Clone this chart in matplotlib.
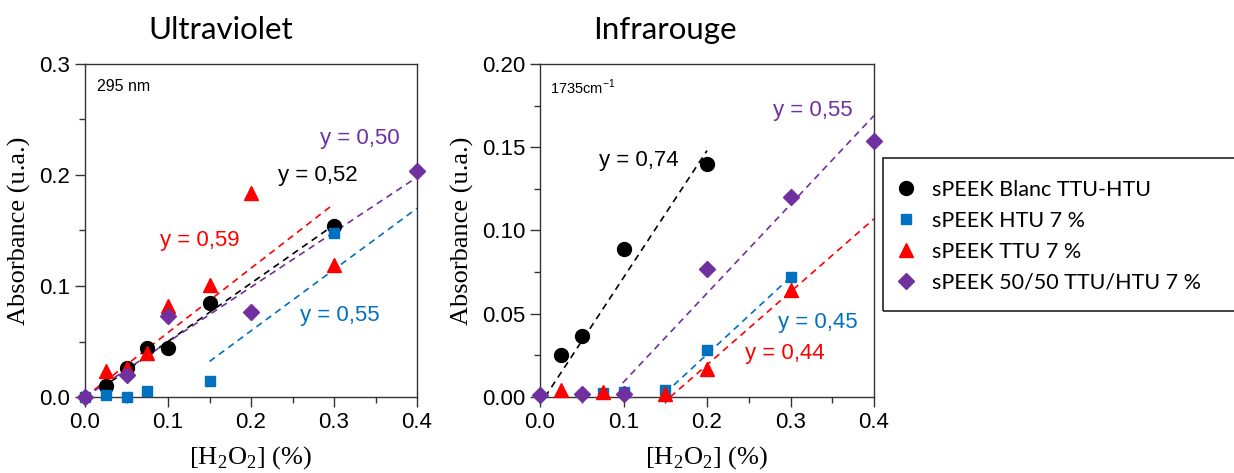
import matplotlib.pyplot as plt
import numpy as np
from matplotlib.patches import Rectangle
from matplotlib.lines import Line2D
from matplotlib.ticker import MultipleLocator

plt.rcParams['mathtext.fontset'] = 'custom'
plt.rcParams['mathtext.rm'] = 'Liberation Serif'
plt.rcParams['mathtext.sf'] = 'Liberation Sans'

# series info
names = ['sPEEK Blanc TTU-HTU', 'sPEEK HTU 7 %', 'sPEEK TTU 7 %', 'sPEEK 50/50 TTU/HTU 7 %']
colors = ['black', '#0070C0', '#FF0000', '#7030A0']
markers = ['o', 's', '^', 'D']
msizes = [10, 7.5, 10.5, 8.5]

# Ultraviolet (295 nm)
uv_x = [
    [0.025, 0.05, 0.075, 0.1, 0.15, 0.3],
    [0.0, 0.025, 0.05, 0.075, 0.15, 0.3],
    [0.025, 0.05, 0.075, 0.1, 0.15, 0.2, 0.3],
    [0.0, 0.05, 0.1, 0.2, 0.4],
]
uv_y = [
    [0.010, 0.026, 0.044, 0.044, 0.085, 0.154],
    [0.0, 0.0015, 0.0, 0.005, 0.014, 0.148],
    [0.023, 0.026, 0.040, 0.082, 0.101, 0.184, 0.119],
    [0.0, 0.020, 0.073, 0.077, 0.204],
]
# fit lines: (x0, y0, x1, y1)
uv_fit = [
    (0.02, 0.008, 0.3, 0.155),
    (0.15, 0.032, 0.4, 0.170),
    (0.0, 0.0, 0.3, 0.174),
    (0.0, 0.0, 0.4, 0.198),
]
uv_lbl = ['y = 0,52', 'y = 0,55', 'y = 0,59', 'y = 0,50']
uv_lbl_pos = [(0.281, 0.200), (0.307, 0.073), (0.138, 0.141), (0.331, 0.233)]

# Infrarouge (1735 cm-1)
ir_x = [
    [0.025, 0.05, 0.1, 0.2],
    [0.075, 0.1, 0.15, 0.2, 0.3],
    [0.025, 0.075, 0.15, 0.2, 0.3],
    [0.0, 0.05, 0.1, 0.2, 0.3, 0.4],
]
ir_y = [
    [0.025, 0.0364, 0.0888, 0.140],
    [0.0024, 0.003, 0.004, 0.028, 0.072],
    [0.004, 0.003, 0.002, 0.017, 0.064],
    [0.001, 0.002, 0.002, 0.077, 0.120, 0.154],
]
ir_fit = [
    (0.006, 0.0, 0.2, 0.148),
    (0.15, 0.0024, 0.3, 0.072),
    (0.156, 0.0, 0.4, 0.107),
    (0.099, 0.0084, 0.4, 0.169),
]
ir_lbl = ['y = 0,74', 'y = 0,45', 'y = 0,44', 'y = 0,55']
ir_lbl_pos = [(0.118, 0.142), (0.333, 0.045), (0.293, 0.026), (0.327, 0.172)]

tick_font = 'Liberation Sans'
serif = 'Liberation Serif'
title_font = 'Lato'

fig = plt.figure(figsize=(12.34, 4.73), dpi=100)
ax1 = fig.add_axes([85/1234, 1-397/473, 332/1234, 333/473])
ax2 = fig.add_axes([540/1234, 1-397/473, 334/1234, 333/473])


def draw(ax, xs, ys, fits, lbls, lpos, ymax, ymaj, ymin, yfmt):
    for i in range(4):
        x0, y0, x1, y1 = fits[i]
        ax.plot([x0, x1], [y0, y1], ls=(0, (4, 3)), lw=1.2, color=colors[i], zorder=2)
    for i in range(4):
        ax.plot(xs[i], ys[i], ls='none', marker=markers[i], ms=msizes[i],
                color=colors[i], mec=colors[i], zorder=3, clip_on=False)
    for i in range(4):
        ax.text(lpos[i][0], lpos[i][1], lbls[i], color=colors[i], fontsize=16,
                family=tick_font, ha='center', va='center')
    ax.set_xlim(0, 0.4)
    ax.set_ylim(0, ymax)
    ax.xaxis.set_major_locator(MultipleLocator(0.1))
    ax.xaxis.set_minor_locator(MultipleLocator(0.05))
    ax.yaxis.set_major_locator(MultipleLocator(ymaj))
    ax.yaxis.set_minor_locator(MultipleLocator(ymin))
    ax.yaxis.set_major_formatter(yfmt)
    ax.xaxis.set_major_formatter('{x:.1f}')
    ax.tick_params(which='major', direction='out', length=7, width=1, labelsize=16, color='#333333')
    ax.tick_params(which='minor', direction='out', length=4, width=1, color='#333333')
    for lab in ax.get_xticklabels() + ax.get_yticklabels():
        lab.set_family(tick_font)
    for s in ax.spines.values():
        s.set_color('#333333')
        s.set_linewidth(1)
    ax.set_xlabel(r'[H$_\mathrm{2}$O$_\mathrm{2}$] (%)', family=serif, fontsize=19, labelpad=8)
    ax.set_ylabel('Absorbance (u.a.)', family=serif, fontsize=19, labelpad=6)


draw(ax1, uv_x, uv_y, uv_fit, uv_lbl, uv_lbl_pos, 0.3, 0.1, 0.05, '{x:.1f}')
draw(ax2, ir_x, ir_y, ir_fit, ir_lbl, ir_lbl_pos, 0.2, 0.05, 0.025, '{x:.2f}')

ax1.text(0.014, 0.28, '295 nm', fontsize=11.5, family=tick_font, va='center')
ax2.text(0.012, 0.186, r'1735cm$^{\mathsf{-1}}$', fontsize=10.5, family=tick_font, va='center')

fig.text(221/1234, 1-30/473, 'Ultraviolet', family=title_font, fontsize=22.5, ha='center', va='center')
fig.text(665/1234, 1-30/473, 'Infrarouge', family=title_font, fontsize=22.5, ha='center', va='center')

# legend box, right edge runs off the picture
fig.patches.append(Rectangle((883/1234, 1-311/473), 0.3, 153/473, transform=fig.transFigure,
                             fill=False, ec='#222222', lw=1.2))
handles = [Line2D([], [], ls='none', marker=markers[i], ms=msizes[i], color=colors[i])
           for i in range(4)]
fig.legend(handles, names, loc='upper left', bbox_to_anchor=(893/1234, 1-180/473),
           frameon=False, prop={'family': title_font, 'size': 15.5}, handletextpad=0.6,
           handlelength=1.2, labelspacing=0.5, borderaxespad=0, borderpad=0)

plt.savefig('out.png', dpi=100)
